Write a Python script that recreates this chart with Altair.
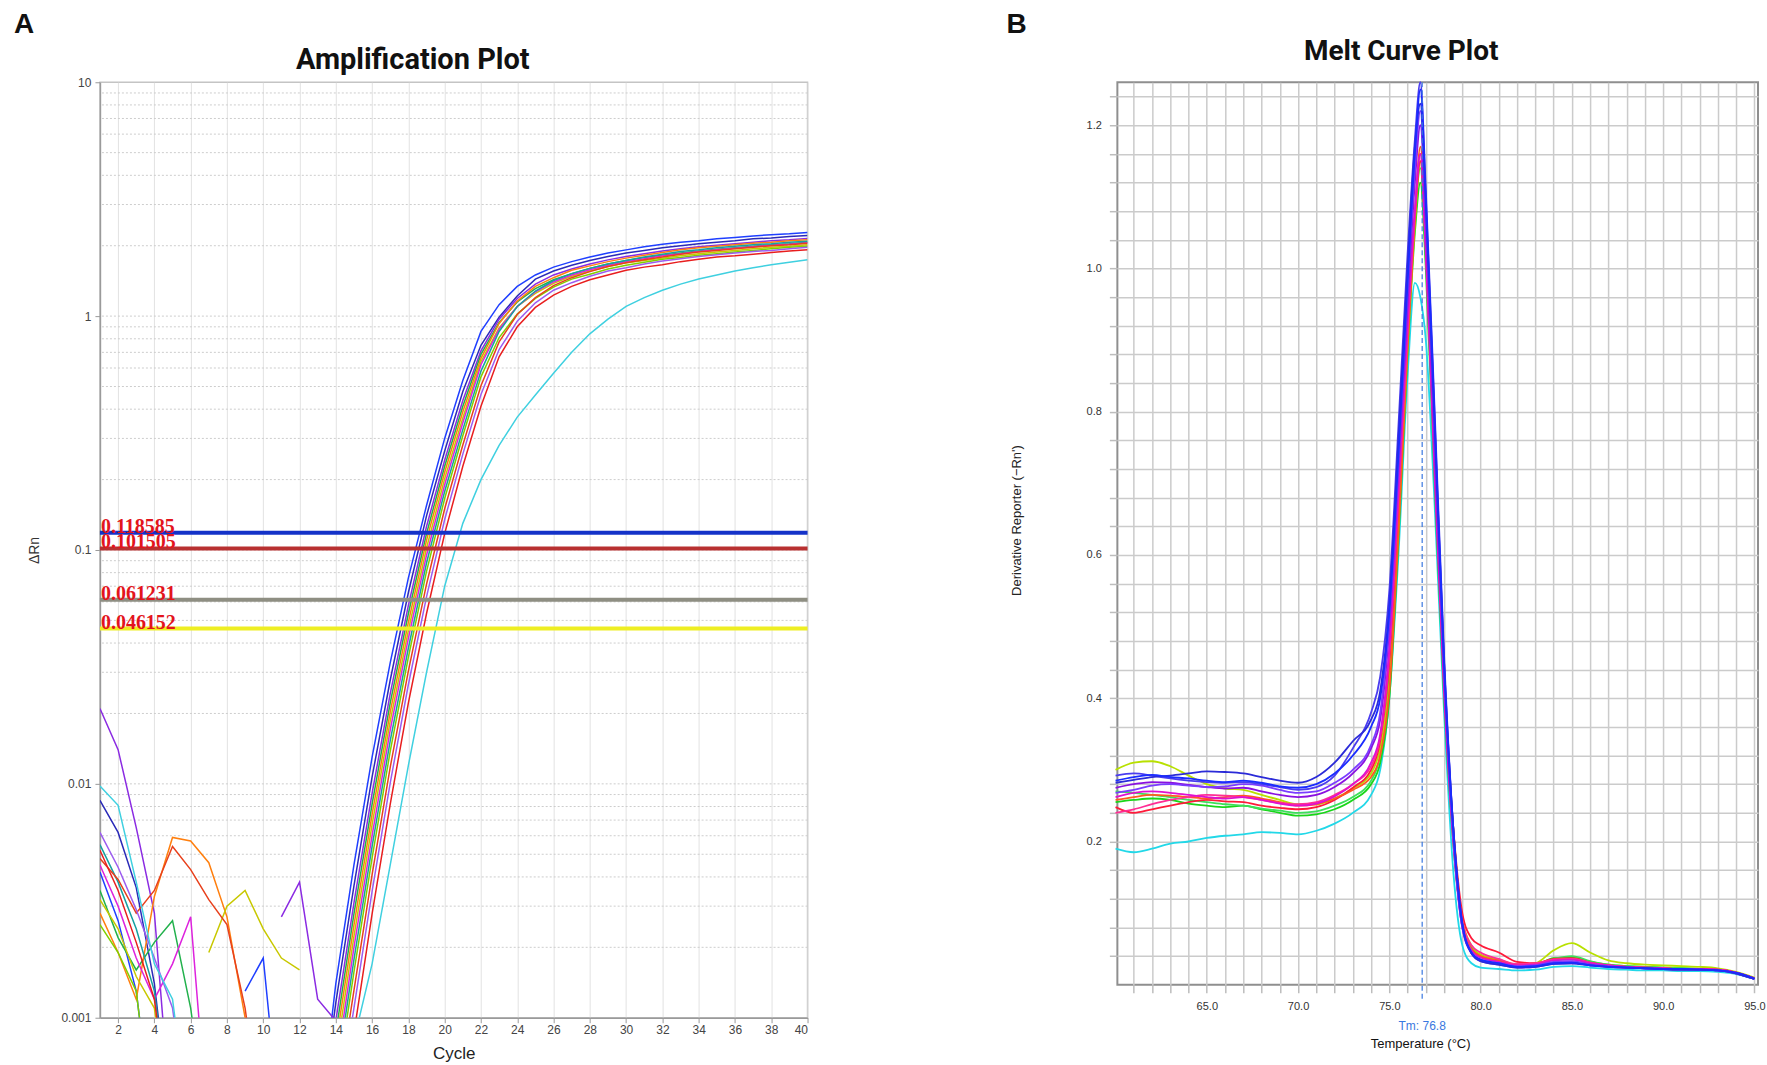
import altair as alt
import pandas as pd

# ---------------- Amplification plot (ΔRn per cycle, log scale) ----------------
cycles = list(range(1, 41))

# one list per well, cycles 1..40; None marks a cycle with no positive reading
amp_w01 = [0.0042, 0.0026, 0.0013, 0.0003, None, None, None, None, 0.0013, 0.0018, 0.0003, None, 0.0003,
           0.0014, 0.0045, 0.013, 0.033, 0.076, 0.155, 0.30, 0.53, 0.86, 1.12, 1.34,
           1.50, 1.62, 1.71, 1.79, 1.86, 1.92, 1.98, 2.03, 2.07, 2.10, 2.14, 2.17, 2.20, 2.23, 2.25, 2.28]
amp_w02 = [0.0085, 0.0062, 0.0036, 0.0014, 0.0003, None, None, None, None, None, None, None, 0.0003,
           0.00116, 0.00366, 0.0107, 0.0278, 0.0658, 0.14, 0.265, 0.476, 0.75, 0.99, 1.22,
           1.44, 1.56, 1.65, 1.73, 1.80, 1.86, 1.91, 1.96, 2.00, 2.04, 2.07, 2.10, 2.14, 2.16, 2.19, 2.21]
amp_w03 = [0.021, 0.014, 0.0065, 0.0028, 0.0003, None, None, None, None, None, 0.0027, 0.0038, 0.0012,
           0.00097, 0.0031, 0.0091, 0.0243, 0.058, 0.126, 0.242, 0.436, 0.71, 0.97, 1.19,
           1.37, 1.50, 1.59, 1.67, 1.74, 1.80, 1.85, 1.90, 1.94, 1.98, 2.01, 2.04, 2.07, 2.10, 2.12, 2.15]
amp_w04 = [0.0035, 0.0022, 0.0016, 0.0021, 0.0026, 0.0011, 0.0003, None, None, None, None, None, 0.0003,
           0.00086, 0.00278, 0.0082, 0.0222, 0.0535, 0.1175, 0.228, 0.412, 0.686, 0.94, 1.15,
           1.31, 1.43, 1.52, 1.60, 1.67, 1.73, 1.78, 1.82, 1.86, 1.90, 1.93, 1.96, 1.99, 2.02, 2.04, 2.07]
amp_w05 = [0.0028, 0.0019, 0.0012, 0.0033, 0.0059, 0.0057, 0.0046, 0.0027, 0.0010, 0.0003, None, None, 0.0003,
           0.00077, 0.00249, 0.0074, 0.0203, 0.0492, 0.11, 0.215, 0.39, 0.66, 0.93, 1.16,
           1.34, 1.46, 1.57, 1.64, 1.71, 1.77, 1.82, 1.87, 1.92, 1.96, 1.99, 2.02, 2.05, 2.07, 2.10, 2.12]
amp_w06 = [0.0032, 0.0024, 0.0015, 0.0011, 0.0003, None, 0.0019, 0.0030, 0.0035, 0.0024, 0.0018, 0.0016, None,
           0.00068, 0.00223, 0.0067, 0.0186, 0.0453, 0.102, 0.202, 0.367, 0.638, 0.89, 1.10,
           1.25, 1.38, 1.48, 1.56, 1.63, 1.69, 1.73, 1.77, 1.81, 1.85, 1.88, 1.91, 1.94, 1.97, 1.99, 2.02]
amp_w07 = [0.0045, 0.0030, 0.0018, 0.0012, 0.0017, 0.0027, 0.0003, None, None, None, None, None, 0.0003,
           0.0006, 0.002, 0.006, 0.017, 0.042, 0.095, 0.19, 0.35, 0.62, 0.88, 1.10,
           1.27, 1.40, 1.50, 1.58, 1.65, 1.71, 1.76, 1.81, 1.85, 1.89, 1.92, 1.95, 1.98, 2.01, 2.03, 2.06]
amp_w08 = [0.0055, 0.0038, 0.0024, 0.0013, 0.0003, None, None, None, None, None, None, None, 0.0003,
           0.00054, 0.00177, 0.0054, 0.0153, 0.0381, 0.088, 0.178, 0.327, 0.582, 0.86, 1.10,
           1.28, 1.42, 1.52, 1.60, 1.67, 1.73, 1.79, 1.84, 1.89, 1.92, 1.96, 1.99, 2.02, 2.04, 2.07, 2.09]
amp_w09 = [0.0025, 0.0019, 0.0013, 0.0003, None, None, None, None, None, None, None, None, 0.0003,
           0.00048, 0.00157, 0.00483, 0.0138, 0.0348, 0.081, 0.166, 0.308, 0.55, 0.81, 1.02,
           1.19, 1.33, 1.44, 1.51, 1.59, 1.65, 1.70, 1.75, 1.78, 1.82, 1.85, 1.88, 1.91, 1.94, 1.97, 1.99]
amp_w10 = [0.0048, 0.0039, 0.0028, 0.0035, 0.0054, 0.0043, 0.0032, 0.0025, 0.0011, 0.0003, None, None, 0.0003,
           0.00041, 0.00131, 0.00409, 0.0118, 0.0304, 0.0714, 0.15, 0.281, 0.504, 0.776, 1.016,
           1.20, 1.35, 1.46, 1.55, 1.63, 1.69, 1.74, 1.79, 1.84, 1.88, 1.91, 1.94, 1.97, 2.00, 2.02, 2.05]
amp_w11 = [0.0062, 0.0044, 0.0029, 0.0018, 0.0011, 0.0003, None, None, None, None, None, None, 0.0003,
           0.00035, 0.0011, 0.00347, 0.0101, 0.0266, 0.063, 0.135, 0.257, 0.462, 0.72, 0.95,
           1.14, 1.29, 1.39, 1.48, 1.56, 1.61, 1.67, 1.72, 1.76, 1.80, 1.83, 1.86, 1.89, 1.91, 1.94, 1.97]
amp_w12 = [0.0052, 0.0035, 0.0021, 0.0012, 0.0003, None, None, None, None, None, None, None, 0.0003,
           0.00028, 0.00086, 0.00278, 0.0082, 0.0222, 0.0535, 0.1175, 0.228, 0.412, 0.67, 0.90,
           1.09, 1.23, 1.34, 1.43, 1.50, 1.57, 1.62, 1.66, 1.71, 1.75, 1.79, 1.81, 1.84, 1.87, 1.90, 1.92]
amp_w13 = [0.0098, 0.0081, 0.0038, 0.0017, 0.0012, 0.0003, None, None, None, None, None, None, 0.0003,
           0.0003, 0.0008, 0.0017, 0.0045, 0.012, 0.03, 0.07, 0.13, 0.20, 0.28, 0.37,
           0.46, 0.57, 0.70, 0.84, 0.97, 1.10, 1.20, 1.29, 1.37, 1.44, 1.50, 1.56, 1.61, 1.66, 1.70, 1.74]

amp_names = ["A1", "A2", "A3", "A4", "A5", "A6", "A7", "A8", "A9", "A10", "A11", "A12", "A13"]
amp_series = [amp_w01, amp_w02, amp_w03, amp_w04, amp_w05, amp_w06, amp_w07,
              amp_w08, amp_w09, amp_w10, amp_w11, amp_w12, amp_w13]
amp_colors = ["#1f3fff", "#2a2ab8", "#8b2be2", "#22b14c", "#ff7f0e", "#c8c800", "#dd22dd",
              "#17a0a0", "#7fd000", "#e8401c", "#9c5cf0", "#e81e1e", "#3fd0e0"]

# threshold lines and their colours
thr_values = [0.118585, 0.101505, 0.061231, 0.046152]
thr_colors = ["#1432c8", "#b83030", "#8e8e82", "#eeee22"]

amp_decades = [0.001, 0.01, 0.1, 1, 10]
amp_minor = [m * d for d in [0.001, 0.01, 0.1, 1] for m in range(1, 10)][1:]
amp_xticks = list(range(2, 41, 2))

# ---------------- Melt curve plot (derivative reporter vs temperature) ----------------
melt_temps = [60, 61, 62, 63, 64, 65, 66, 67, 68, 69, 70, 71, 72, 73, 74,
              74.5, 75, 75.5, 76, 76.4, 76.7, 77, 77.5, 78, 78.5, 79, 79.5,
              80, 81, 82, 83, 84, 85, 86, 87, 88, 89, 90, 91, 92, 93, 94, 95]

melt_m01 = [0.285, 0.29, 0.293, 0.29, 0.288, 0.285, 0.283, 0.285, 0.282, 0.277, 0.275, 0.28, 0.295, 0.32, 0.36,
            0.40, 0.52, 0.74, 0.98, 1.16, 1.25, 1.10, 0.78, 0.45, 0.22, 0.085, 0.045,
            0.035, 0.03, 0.025, 0.026, 0.03, 0.031, 0.027, 0.025, 0.024, 0.023, 0.022, 0.022, 0.021, 0.02, 0.017, 0.009]
melt_m02 = [0.262, 0.268, 0.27, 0.268, 0.265, 0.262, 0.26, 0.262, 0.258, 0.253, 0.25, 0.253, 0.263, 0.28, 0.31,
            0.35, 0.47, 0.69, 0.92, 1.08, 1.16, 1.02, 0.70, 0.41, 0.20, 0.08, 0.048,
            0.038, 0.032, 0.027, 0.028, 0.034, 0.035, 0.03, 0.027, 0.025, 0.024, 0.023, 0.022, 0.022, 0.021, 0.017, 0.009]
melt_m03 = [0.275, 0.28, 0.283, 0.282, 0.279, 0.276, 0.274, 0.275, 0.27, 0.265, 0.262, 0.265, 0.276, 0.295, 0.33,
            0.37, 0.50, 0.72, 0.95, 1.12, 1.20, 1.06, 0.74, 0.43, 0.21, 0.08, 0.044,
            0.034, 0.029, 0.025, 0.026, 0.031, 0.032, 0.028, 0.025, 0.024, 0.023, 0.022, 0.021, 0.021, 0.02, 0.016, 0.008]
melt_m04 = [0.248, 0.24, 0.245, 0.25, 0.255, 0.258, 0.256, 0.255, 0.25, 0.247, 0.245, 0.248, 0.258, 0.275, 0.30,
            0.34, 0.45, 0.66, 0.90, 1.07, 1.15, 1.03, 0.72, 0.42, 0.22, 0.10, 0.065,
            0.055, 0.045, 0.032, 0.03, 0.036, 0.037, 0.031, 0.027, 0.025, 0.024, 0.023, 0.022, 0.022, 0.021, 0.017, 0.009]
melt_m05 = [0.255, 0.258, 0.26, 0.258, 0.253, 0.25, 0.248, 0.25, 0.245, 0.24, 0.236, 0.238, 0.245, 0.258, 0.28,
            0.31, 0.40, 0.62, 0.88, 1.05, 1.12, 1.00, 0.69, 0.40, 0.20, 0.085, 0.052,
            0.04, 0.033, 0.027, 0.028, 0.037, 0.038, 0.032, 0.028, 0.026, 0.025, 0.024, 0.023, 0.022, 0.021, 0.017, 0.009]
melt_m06 = [0.30, 0.31, 0.312, 0.305, 0.292, 0.28, 0.274, 0.272, 0.265, 0.258, 0.252, 0.252, 0.26, 0.274, 0.295,
            0.33, 0.42, 0.64, 0.89, 1.06, 1.15, 1.03, 0.73, 0.43, 0.22, 0.09, 0.055,
            0.042, 0.035, 0.028, 0.03, 0.048, 0.058, 0.045, 0.034, 0.03, 0.028, 0.027, 0.026, 0.025, 0.023, 0.018, 0.01]
melt_m07 = [0.19, 0.185, 0.19, 0.197, 0.2, 0.205, 0.208, 0.21, 0.213, 0.212, 0.21, 0.215, 0.225, 0.24, 0.265,
            0.30, 0.40, 0.60, 0.85, 0.98, 0.96, 0.90, 0.66, 0.38, 0.16, 0.055, 0.03,
            0.024, 0.022, 0.02, 0.021, 0.025, 0.026, 0.024, 0.022, 0.021, 0.02, 0.02, 0.019, 0.019, 0.018, 0.015, 0.008]
melt_m08 = [0.268, 0.272, 0.278, 0.28, 0.278, 0.276, 0.277, 0.28, 0.278, 0.272, 0.268, 0.27, 0.282, 0.30, 0.335,
            0.38, 0.51, 0.73, 0.97, 1.14, 1.22, 1.08, 0.76, 0.44, 0.21, 0.08, 0.045,
            0.035, 0.03, 0.026, 0.027, 0.032, 0.033, 0.028, 0.026, 0.024, 0.023, 0.022, 0.022, 0.021, 0.02, 0.016, 0.008]
melt_m09 = [0.258, 0.262, 0.265, 0.264, 0.262, 0.26, 0.262, 0.264, 0.26, 0.255, 0.25, 0.252, 0.26, 0.272, 0.29,
            0.32, 0.41, 0.63, 0.89, 1.07, 1.17, 1.05, 0.73, 0.42, 0.21, 0.085, 0.05,
            0.04, 0.034, 0.028, 0.029, 0.035, 0.036, 0.03, 0.027, 0.025, 0.024, 0.023, 0.022, 0.022, 0.021, 0.017, 0.009]
melt_m10 = [0.282, 0.286, 0.29, 0.292, 0.295, 0.298, 0.297, 0.295, 0.29, 0.285, 0.282, 0.29, 0.31, 0.34, 0.37,
            0.41, 0.53, 0.76, 1.00, 1.17, 1.23, 1.09, 0.77, 0.45, 0.22, 0.085, 0.044,
            0.033, 0.028, 0.024, 0.025, 0.029, 0.03, 0.027, 0.025, 0.024, 0.023, 0.022, 0.021, 0.021, 0.02, 0.016, 0.008]
melt_m11 = [0.24, 0.245, 0.252, 0.258, 0.262, 0.265, 0.264, 0.262, 0.258, 0.254, 0.252, 0.255, 0.265, 0.28, 0.305,
            0.345, 0.46, 0.68, 0.91, 1.08, 1.16, 1.03, 0.72, 0.42, 0.21, 0.09, 0.055,
            0.045, 0.036, 0.029, 0.03, 0.035, 0.036, 0.031, 0.027, 0.025, 0.024, 0.023, 0.022, 0.022, 0.021, 0.017, 0.009]
melt_m12 = [0.27, 0.268, 0.265, 0.262, 0.258, 0.255, 0.252, 0.25, 0.246, 0.243, 0.24, 0.242, 0.25, 0.262, 0.285,
            0.32, 0.43, 0.65, 0.90, 1.07, 1.14, 1.02, 0.71, 0.41, 0.20, 0.085, 0.05,
            0.039, 0.033, 0.027, 0.028, 0.036, 0.04, 0.033, 0.028, 0.026, 0.025, 0.024, 0.023, 0.022, 0.021, 0.017, 0.009]
melt_m13 = [0.292, 0.295, 0.292, 0.288, 0.285, 0.283, 0.282, 0.283, 0.28, 0.276, 0.272, 0.276, 0.292, 0.33, 0.38,
            0.43, 0.55, 0.78, 1.02, 1.18, 1.26, 1.11, 0.79, 0.46, 0.22, 0.085, 0.044,
            0.033, 0.028, 0.024, 0.025, 0.029, 0.03, 0.027, 0.025, 0.024, 0.023, 0.022, 0.021, 0.021, 0.02, 0.016, 0.008]

melt_names = ["M07", "M05", "M12", "M06", "M04", "M09", "M11", "M02", "M03", "M08", "M13", "M10", "M01"]
melt_series = [melt_m07, melt_m05, melt_m12, melt_m06, melt_m04, melt_m09, melt_m11,
               melt_m02, melt_m03, melt_m08, melt_m13, melt_m10, melt_m01]
melt_colors = ["#22d8e8", "#19d619", "#3ce05a", "#b8e000", "#ff1a3a", "#ff5a1f", "#ff2d95",
               "#e010d0", "#8a10e0", "#7b3cff", "#4a3cf0", "#2b2bd8", "#1a2cff"]

melt_tm = 76.8
melt_xticks = list(range(61, 96))
melt_yticks = [round(0.04 * k, 2) for k in range(1, 32)]

# ---------------- long tables ----------------
amp_df = pd.DataFrame(
    [{"well": n, "cycle": c, "dRn": v} for n, s in zip(amp_names, amp_series) for c, v in zip(cycles, s)]
)
melt_df = pd.DataFrame(
    [{"sample": n, "temp": t, "deriv": v} for n, s in zip(melt_names, melt_series) for t, v in zip(melt_temps, s)]
)
thr_df = pd.DataFrame({"dRn": thr_values, "c": thr_colors})
minor_df = pd.DataFrame({"dRn": amp_minor})

W_A, H_A = 708, 936
W_B, H_B = 641, 903

# ---------------- panel A ----------------
x_a = alt.X(
    "cycle:Q",
    scale=alt.Scale(domain=[1, 40], nice=False, zero=False),
    axis=alt.Axis(values=amp_xticks, grid=True, gridColor="#e2e2e2", gridWidth=1, tickSize=5,
                  tickColor="#9a9a9a", labelFontSize=12, labelColor="#444", labelPadding=2,
                  labelOverlap=False, domainColor="#9a9a9a", domainWidth=1.5, title="Cycle",
                  titleFontSize=17, titleFontWeight="normal", titleColor="#222", titleY=36,
                  titleBaseline="middle"),
)
y_a = alt.Y(
    "dRn:Q",
    scale=alt.Scale(type="log", domain=[0.001, 10], nice=False),
    axis=alt.Axis(values=amp_decades, format="~g", grid=False, tickSize=5, tickColor="#9a9a9a",
                  labelFontSize=12, labelColor="#444", labelPadding=4, domainColor="#9a9a9a",
                  domainWidth=1.5, title="ΔRn", titleFontSize=14, titleFontWeight="normal",
                  titleColor="#333", titleX=-65, titleY=H_A / 2, titleBaseline="middle"),
)

grid_a = alt.Chart(minor_df).mark_rule(color="#cdcdcd", strokeDash=[2, 2], strokeWidth=1).encode(y=y_a)

lines_a = alt.Chart(amp_df).mark_line(strokeWidth=1.5, clip=True, invalid="break-paths-show-domains").encode(
    x=x_a,
    y=y_a,
    color=alt.Color("well:N", scale=alt.Scale(domain=amp_names, range=amp_colors), legend=None),
)

thr_rules = alt.Chart(thr_df).mark_rule(strokeWidth=4).encode(
    y=y_a, color=alt.Color("c:N", scale=None)
)
thr_text = alt.Chart(thr_df).mark_text(
    align="left", baseline="alphabetic", font="Liberation Serif", fontWeight="bold",
    fontSize=20, color="#e3141c", dx=1
).encode(x=alt.value(0), y=y_a, text=alt.Text("dRn:Q", format=".6f"))

label_a = alt.Chart(pd.DataFrame({"t": ["A"]})).mark_text(
    align="left", baseline="top", fontSize=28, fontWeight="bold", font="Liberation Sans", color="#111"
).encode(x=alt.value(-86), y=alt.value(-71), text="t:N")
title_a = alt.Chart(pd.DataFrame({"t": ["Amplification Plot"]})).mark_text(
    align="center", baseline="middle", fontSize=29, fontWeight="bold", font="Roboto", color="#111"
).encode(x=alt.value(313), y=alt.value(-22), text="t:N")

panel_a = alt.layer(grid_a, lines_a, thr_rules, thr_text, label_a, title_a).properties(
    width=W_A, height=H_A, view=alt.ViewBackground(stroke="#c4c4c4", strokeWidth=1.5)
)

# ---------------- panel B ----------------
x_b = alt.X(
    "temp:Q",
    scale=alt.Scale(domain=[60.1, 95.2], nice=False, zero=False),
    axis=alt.Axis(values=melt_xticks,
                  labelExpr="datum.value % 5 == 0 ? format(datum.value, '.1f') : ''",
                  grid=True, gridColor="#cbcbcb", gridWidth=1.5, tickSize=8, tickColor="#bdbdbd",
                  tickWidth=1.5, labelFontSize=11, labelColor="#333", labelPadding=8,
                  labelOverlap=False, labelFlush=True, domain=False, title="Temperature (°C)",
                  titleFontSize=13, titleFontWeight="normal", titleColor="#111", titleX=303,
                  titleY=59, titleBaseline="middle"),
)
y_b = alt.Y(
    "deriv:Q",
    scale=alt.Scale(domain=[0, 1.26], nice=False, zero=False),
    axis=alt.Axis(values=melt_yticks,
                  labelExpr="round(datum.value * 100) % 20 == 0 ? format(datum.value, '.1f') : ''",
                  grid=True, gridColor="#cbcbcb", gridWidth=1.5, tickSize=8, tickColor="#bdbdbd",
                  tickWidth=1.5, labelFontSize=11, labelColor="#333", labelPadding=8,
                  labelOverlap=False, domain=False, title="Derivative Reporter (−Rn')",
                  titleFontSize=13, titleFontWeight="normal", titleColor="#222", titleX=-101,
                  titleY=438, titleBaseline="middle"),
)

lines_b = alt.Chart(melt_df).mark_line(strokeWidth=1.8, interpolate="monotone").encode(
    x=x_b,
    y=y_b,
    color=alt.Color("sample:N", scale=alt.Scale(domain=melt_names, range=melt_colors), legend=None),
)

tm_df = pd.DataFrame({"temp": [melt_tm], "label": [f"Tm: {melt_tm:.1f}"]})
tm_rule = alt.Chart(tm_df).mark_rule(color="#3a78e0", strokeDash=[5, 3], strokeWidth=1.2).encode(
    x=x_b, y=alt.value(0), y2=alt.value(H_B + 16)
)
tm_text = alt.Chart(tm_df).mark_text(color="#3a78e0", fontSize=12, baseline="middle").encode(
    x=x_b, y=alt.value(H_B + 41), text="label:N"
)

label_b = alt.Chart(pd.DataFrame({"t": ["B"]})).mark_text(
    align="left", baseline="top", fontSize=28, fontWeight="bold", font="Liberation Sans", color="#111"
).encode(x=alt.value(-111), y=alt.value(-71), text="t:N")
title_b = alt.Chart(pd.DataFrame({"t": ["Melt Curve Plot"]})).mark_text(
    align="center", baseline="middle", fontSize=28, fontWeight="bold", font="Roboto", color="#111"
).encode(x=alt.value(284), y=alt.value(-30), text="t:N")

panel_b = alt.layer(lines_b, tm_rule, tm_text, label_b, title_b).properties(
    width=W_B, height=H_B, view=alt.ViewBackground(stroke="#8f8f8f", strokeWidth=2)
)

chart = (
    alt.hconcat(panel_a, panel_b, spacing=310, bounds="flush")
    .resolve_scale(color="independent")
    .properties(padding={"left": 13, "top": 10, "right": 0, "bottom": 0}, background="white")
    .configure(font="Liberation Sans")
)

chart.save("out.html", embed_options={"renderer": "svg", "actions": False})
